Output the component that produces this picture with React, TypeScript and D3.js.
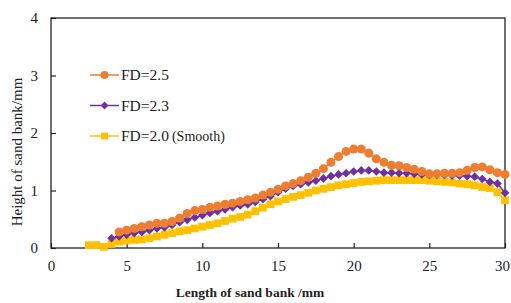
import React, { useEffect, useRef } from 'react';
import * as d3 from 'd3';

// x positions (mm) start at different points for each series, step 0.5
const xFD25 = d3.range(4.5, 30.01, 0.5);
const xFD23 = d3.range(4, 30.01, 0.5);
const xFD20 = d3.range(2.5, 30.01, 0.5);

const yFD25 = [
  0.28, 0.31, 0.34, 0.37, 0.40, 0.43, 0.43, 0.46, 0.52, 0.60, 0.65, 0.67,
  0.71, 0.73, 0.76, 0.78, 0.81, 0.84, 0.87, 0.92, 0.97, 1.02, 1.08, 1.12,
  1.17, 1.23, 1.30, 1.38, 1.49, 1.59, 1.68, 1.72, 1.72, 1.65, 1.55, 1.49,
  1.44, 1.43, 1.40, 1.37, 1.33, 1.29, 1.29, 1.30, 1.30, 1.31, 1.35, 1.40,
  1.41, 1.36, 1.31, 1.28,
];
const yFD23 = [
  0.17, 0.20, 0.23, 0.26, 0.28, 0.31, 0.34, 0.36, 0.40, 0.45, 0.49, 0.53,
  0.57, 0.61, 0.64, 0.67, 0.71, 0.74, 0.76, 0.80, 0.85, 0.90, 0.97, 1.03,
  1.08, 1.11, 1.14, 1.17, 1.21, 1.25, 1.28, 1.30, 1.33, 1.35, 1.35, 1.33,
  1.31, 1.31, 1.30, 1.30, 1.29, 1.28, 1.27, 1.27, 1.27, 1.26, 1.26, 1.25,
  1.24, 1.20, 1.15, 1.12, 0.96,
];
const yFD20 = [
  0.05, 0.05, 0.02, 0.07, 0.11, 0.13, 0.14, 0.15, 0.17, 0.20, 0.23, 0.26,
  0.29, 0.31, 0.34, 0.37, 0.40, 0.43, 0.47, 0.51, 0.54, 0.58, 0.64, 0.70,
  0.76, 0.81, 0.85, 0.89, 0.92, 0.96, 1.00, 1.03, 1.06, 1.09, 1.11, 1.13,
  1.15, 1.16, 1.17, 1.18, 1.18, 1.18, 1.18, 1.18, 1.18, 1.17, 1.16, 1.15,
  1.14, 1.12, 1.11, 1.09, 1.06, 1.04, 0.97, 0.83,
];

const seriesNames = ['FD=2.5', 'FD=2.3', 'FD=2.0'];
const xTicks = [0, 5, 10, 15, 20, 25, 30];
const yTicks = [0, 1, 2, 3, 4];

const App = () => {
  const svgRef = useRef(null);

  useEffect(() => {
    const svg = d3.select(svgRef.current);
    svg.selectAll('*').remove();

    const margin = { top: 18, right: 6, bottom: 55, left: 51 };
    const width = 511;
    const height = 303;
    const innerWidth = width - margin.left - margin.right;
    const innerHeight = height - margin.top - margin.bottom;
    const font = '"Liberation Serif", "Times New Roman", serif';

    const xScale = d3.scaleLinear().domain([0, 30]).range([0, innerWidth]);
    const yScale = d3.scaleLinear().domain([0, 4]).range([innerHeight, 0]);

    const g = svg.append('g').attr('transform', `translate(${margin.left},${margin.top})`);

    // frame
    g.append('rect')
      .attr('width', innerWidth)
      .attr('height', innerHeight)
      .attr('fill', 'none')
      .attr('stroke', '#222')
      .attr('stroke-width', 1.3);

    // axes (ticks inward)
    const xAxis = g.append('g')
      .attr('transform', `translate(0,${innerHeight})`)
      .call(d3.axisBottom(xScale).tickValues(xTicks).tickSize(-5).tickPadding(12).tickFormat(d3.format('d')));
    const yAxis = g.append('g')
      .call(d3.axisLeft(yScale).tickValues(yTicks).tickSize(-5).tickPadding(13).tickFormat(d3.format('d')));
    [xAxis, yAxis].forEach(a => {
      a.select('.domain').remove();
      a.selectAll('line').attr('stroke', '#222').attr('stroke-width', 1.2);
      a.selectAll('text').attr('font-family', font).attr('font-size', 15).attr('fill', '#222');
    });
    // last label sits at the page edge; nudge it in a little so it stays whole
    xAxis.selectAll('text').filter(d => d === 30).attr('dx', -3);

    const series = [
      { name: seriesNames[0], xs: xFD25, ys: yFD25, color: '#ED7D31', shape: d3.symbolCircle, size: 64 },
      { name: seriesNames[1], xs: xFD23, ys: yFD23, color: '#7030A0', shape: d3.symbolDiamond2, size: 48 },
      { name: seriesNames[2], xs: xFD20, ys: yFD20, color: '#FFC000', shape: d3.symbolSquare, size: 60 },
    ];

    const line = d3.line<[number, number]>()
      .x(d => xScale(d[0]))
      .y(d => yScale(d[1]));

    // draw last series first so orange is on top
    [...series].reverse().forEach(s => {
      const pts: [number, number][] = s.xs.map((x, i) => [x, s.ys[i]]);
      g.append('path')
        .datum(pts)
        .attr('fill', 'none')
        .attr('stroke', s.color)
        .attr('stroke-width', 1.5)
        .attr('d', line);
      g.append('g')
        .selectAll('path')
        .data(pts)
        .join('path')
        .attr('transform', d => `translate(${xScale(d[0])},${yScale(d[1])})`)
        .attr('d', d3.symbol().type(s.shape).size(s.size)())
        .attr('fill', s.color);
    });

    // legend
    const legend = svg.append('g').attr('transform', 'translate(90,75)');
    series.forEach((s, i) => {
      const row = legend.append('g').attr('transform', `translate(0,${i * 30.5})`);
      row.append('line').attr('x1', 0).attr('x2', 29).attr('stroke', s.color).attr('stroke-width', 1.5);
      row.append('path')
        .attr('transform', 'translate(14.5,0)')
        .attr('d', d3.symbol().type(s.shape).size(s.size * 0.8)())
        .attr('fill', s.color);
      const t = row.append('text')
        .attr('x', 31)
        .attr('y', 5)
        .attr('font-family', font)
        .attr('font-size', 15.5)
        .attr('fill', '#222')
        .text(s.name);
      if (i === 2) {
        t.append('tspan').attr('font-size', 14).attr('dx', 3).text('(Smooth)');
      }
    });

    // axis titles
    svg.append('text')
      .attr('x', 250)
      .attr('y', 297)
      .attr('text-anchor', 'middle')
      .attr('font-family', font)
      .attr('font-weight', 'bold')
      .attr('font-size', 13.5)
      .attr('fill', '#222')
      .text('Length of sand bank /mm');

    svg.append('text')
      .attr('transform', 'translate(22,152) rotate(-90)')
      .attr('text-anchor', 'middle')
      .attr('font-family', font)
      .attr('font-size', 15)
      .attr('fill', '#222')
      .text('Height of sand bank/mm');
  }, []);

  return (
    <svg
      ref={svgRef}
      width={511}
      height={303}
      style={{ position: 'absolute', left: 0, top: 0, background: '#fff' }}
    />
  );
};

export default App;
